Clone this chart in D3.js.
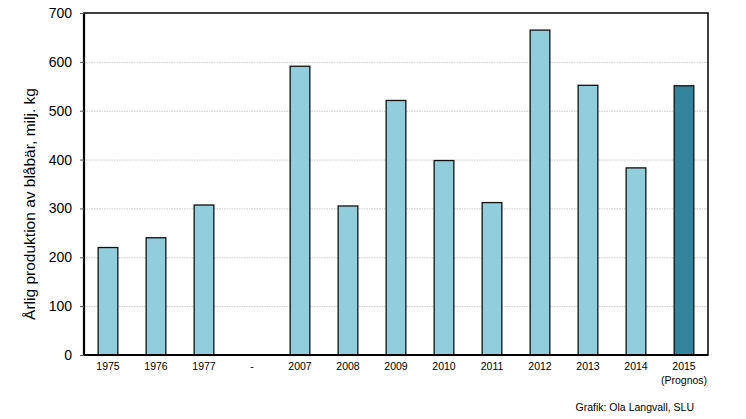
<!DOCTYPE html>
<html><head><meta charset="utf-8">
<script src="https://cdn.jsdelivr.net/npm/d3@7"></script>
<style>body{margin:0;background:#fff;font-family:Arial,"Liberation Sans",sans-serif}</style>
</head><body>
<svg id="c" width="746" height="419"></svg>
<script>
const categories = ["1975","1976","1977","-","2007","2008","2009","2010","2011","2012","2013","2014","2015"];
const values = [220,240,307,null,591,305,521,398,312,665,552,383,551];
const forecast = [false,false,false,false,false,false,false,false,false,false,false,false,true];
const yTicks = [0,100,200,300,400,500,600,700];
const yTitle = "Årlig produktion av blåbär, milj. kg";
const footer = "Grafik: Ola Langvall, SLU";

const svg = d3.select("#c");
const L=84,R=708,T=13,B=355;
const x = d3.scaleBand().domain(categories).range([L,R]).paddingInner(0.59).paddingOuter(0.295);
const y = d3.scaleLinear().domain([0,700]).range([B,T]);

svg.append("g").selectAll("line").data(yTicks.filter(d=>d>0&&d<700)).join("line")
 .attr("x1",L).attr("x2",R).attr("y1",d=>y(d)+0.5).attr("y2",d=>y(d)+0.5)
 .attr("stroke","#b0b0b0").attr("stroke-width",0.7).attr("stroke-dasharray","1.5,1");

const data = categories.map((c,i)=>({c,v:values[i],f:forecast[i]})).filter(d=>d.v!=null);
svg.append("g").selectAll("rect").data(data).join("rect")
 .attr("x",d=>x(d.c)).attr("width",x.bandwidth())
 .attr("y",d=>y(d.v)).attr("height",d=>B-y(d.v))
 .attr("fill",d=>d.f?"#31849B":"#92CDDC").attr("stroke","#111").attr("stroke-width",1.3);

// frame
svg.append("rect").attr("x",L).attr("y",T).attr("width",R-L).attr("height",B-T)
 .attr("fill","none").attr("stroke","#000").attr("stroke-width",1.5);
svg.append("line").attr("x1",L).attr("x2",L).attr("y1",T).attr("y2",B+1).attr("stroke","#000").attr("stroke-width",2.2);
svg.append("line").attr("x1",L).attr("x2",R).attr("y1",B).attr("y2",B).attr("stroke","#000").attr("stroke-width",2.2);

const ya = svg.append("g").attr("transform",`translate(${L},0)`)
 .call(d3.axisLeft(y).tickValues(yTicks).tickSize(4).tickPadding(8));
ya.select(".domain").remove();
ya.selectAll("line").attr("stroke","#555");
ya.selectAll("text").attr("font-size","14px").attr("font-family","Arial, 'Liberation Sans', sans-serif").attr("fill","#000");

const xa = svg.append("g").attr("transform",`translate(0,${B})`)
 .call(d3.axisBottom(x).tickSize(0).tickPadding(8));
xa.select(".domain").remove();
xa.selectAll("text").attr("font-size","10.5px").attr("font-family","Arial, 'Liberation Sans', sans-serif").attr("fill","#000");
xa.selectAll(".tick").filter(d=>d==="2015").append("text")
 .attr("y",22).attr("dy","0.71em").attr("text-anchor","middle")
 .attr("font-size","10.5px").attr("font-family","Arial, 'Liberation Sans', sans-serif").attr("fill","#000").text("(Prognos)");

svg.append("text").attr("transform","translate(35,204) rotate(-90)").attr("text-anchor","middle")
 .attr("font-size","15.5px").attr("font-family","Arial, 'Liberation Sans', sans-serif").text(yTitle);

svg.append("text").attr("x",694).attr("y",411).attr("text-anchor","end")
 .attr("font-size","10.5px").attr("font-family","Arial, 'Liberation Sans', sans-serif").text(footer);
</script>
</body></html>
